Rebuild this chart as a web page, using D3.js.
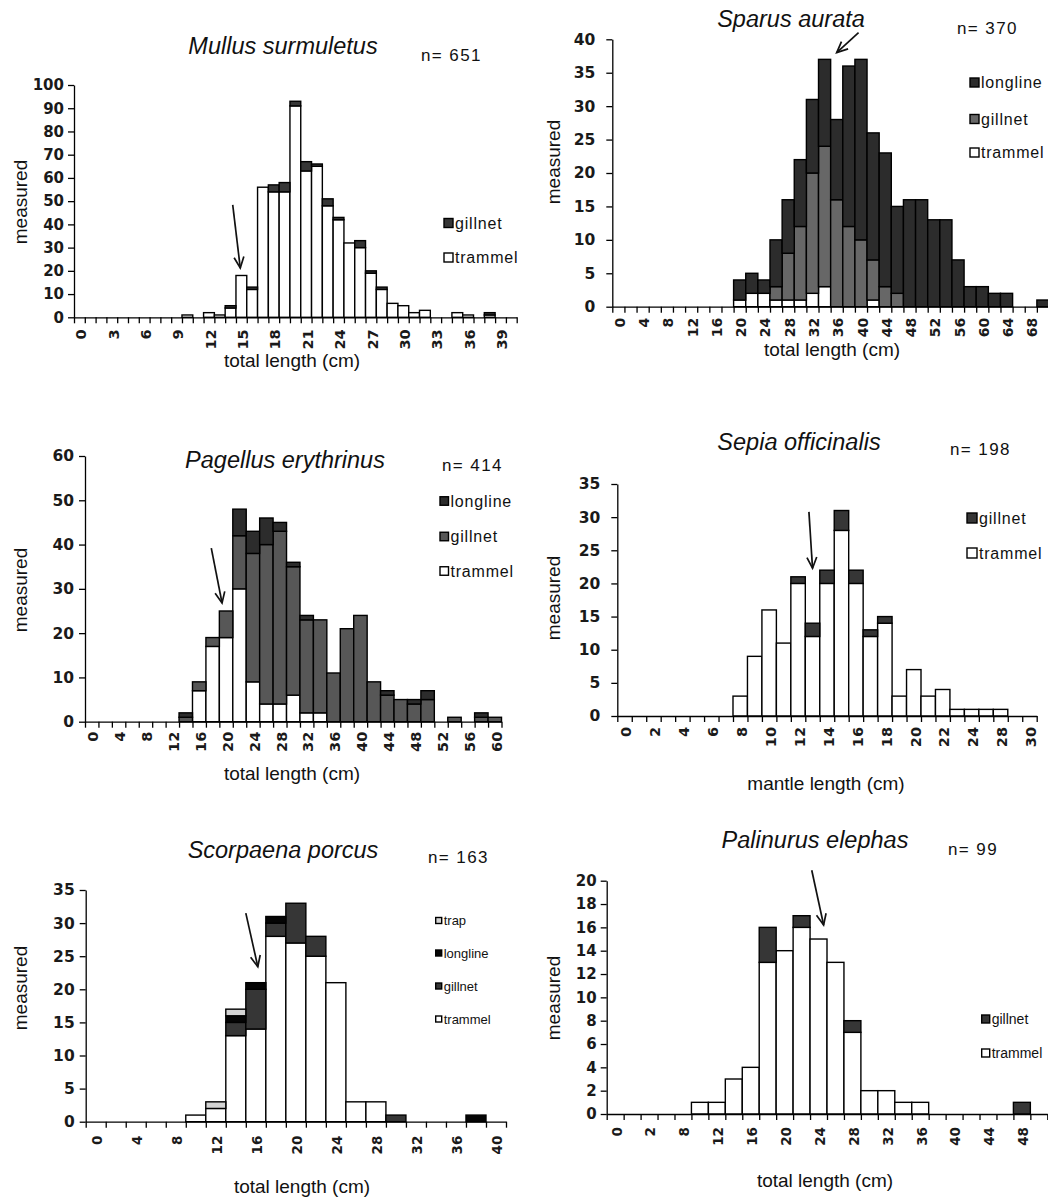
<!DOCTYPE html>
<html><head><meta charset="utf-8">
<script src="https://cdn.jsdelivr.net/npm/d3@7"></script>
<style>html,body{margin:0;padding:0;background:#fff}</style>
</head><body>
<svg id="chart" width="1048" height="1199"></svg>
<script>
// ---------------- DATA ----------------
// Panel 1: Mullus surmuletus (1 cm classes)
const mullusCats = d3.range(0, 41);
const mullusTrammel = [0,0,0,0,0,0,0,0,0,0, 1,0,2,1,4,18,12,56,54,54, 91,63,65,48,42,32,30,19,12,6, 5,2,3,0,0,2,1,0,1,0, 0];
const mullusGillnet = [0,0,0,0,0,0,0,0,0,0, 0,0,0,0,1,0,1,0,3,4, 2,4,1,3,1,0,3,1,1,0, 0,0,0,0,0,0,0,0,1,0, 0];

// Panel 2: Sparus aurata (2 cm classes)
const sparusCats = d3.range(0, 71, 2);
const sparusTrammel  = [0,0,0,0,0,0,0,0,0,0, 1,2,2,1,1,1,2,3,0,0, 0,1,0,0,0,0,0,0,0,0, 0,0,0,0,0,0];
const sparusGillnet  = [0,0,0,0,0,0,0,0,0,0, 0,0,0,2,7,11,18,21,16,12, 10,6,3,2,0,0,0,0,0,0, 0,0,0,0,0,0];
const sparusLongline = [0,0,0,0,0,0,0,0,0,0, 3,3,2,7,8,10,11,13,12,24, 27,19,20,13,16,16,13,13,7,3, 3,2,2,0,0,1];

// Panel 3: Pagellus erythrinus (2 cm classes)
const pagellusCats = d3.range(0, 61, 2);
const pagellusTrammel  = [0,0,0,0,0,0,0,0,7,17, 19,30,9,4,4,6,2,2,0,0, 0,0,0,0,0,0,0,0,0,0, 0];
const pagellusGillnet  = [0,0,0,0,0,0,0,1,2,2, 6,12,29,36,39,29,21,21,11,21, 24,9,6,5,4,5,0,1,0,1, 1];
const pagellusLongline = [0,0,0,0,0,0,0,1,0,0, 0,6,5,6,2,1,1,0,0,0, 0,0,1,0,1,2,0,0,0,1, 0];

// Panel 4: Sepia officinalis (mantle length, 1 cm classes)
const sepiaCats = [0,1,2,3,4,5,6,7,8,9,10,11,12,13,14,15,16,17,18,19,20,21,22,23,24,26,28,29,30];
const sepiaTrammel = [0,0,0,0,0,0,0,0,3,9, 16,11,20,12,20,28,20,12,14,3, 7,3,4,1,1,1,1,0,0];
const sepiaGillnet = [0,0,0,0,0,0,0,0,0,0, 0,0,1,2,2,3,2,1,1,0, 0,0,0,0,0,0,0,0,0];

// Panel 5: Scorpaena porcus (2 cm classes)
const scorpaenaCats = d3.range(0, 41, 2);
const scorpaenaTrammel  = [0,0,0,0,0,1,2,13,14,28, 27,25,21,3,3,0,0,0,0,0, 0];
const scorpaenaGillnet  = [0,0,0,0,0,0,0,2,6,2, 6,3,0,0,0,1,0,0,0,0, 0];
const scorpaenaLongline = [0,0,0,0,0,0,0,1,1,1, 0,0,0,0,0,0,0,0,0,1, 0];
const scorpaenaTrap     = [0,0,0,0,0,0,1,1,0,0, 0,0,0,0,0,0,0,0,0,0, 0];

// Panel 6: Palinurus elephas
const palinurusCats = [0,1,2,6,8,10,12,14,16,18,20,22,24,26,28,30,32,34,36,38,40,42,44,46,48,50];
const palinurusTrammel = [0,0,0,0,0,1,1,3,4,13, 14,16,15,13,7,2,2,1,1,0, 0,0,0,0,0,0];
const palinurusGillnet = [0,0,0,0,0,0,0,0,0,3, 0,1,0,0,1,0,0,0,0,0, 0,0,0,0,1,0];

const titles = ["Mullus surmuletus","Sparus aurata","Pagellus erythrinus","Sepia officinalis","Scorpaena porcus","Palinurus elephas"];
const nLabels = ["n= 651","n= 370","n= 414","n= 198","n= 163","n= 99"];
const xTitles = ["total length (cm)","total length (cm)","total length (cm)","mantle length (cm)","total length (cm)","total length (cm)"];
const yTitle = "measured";
// arrows in data coordinates: [category index position, value]
const arrows = [
  {from:[14.7,48.4], to:[15.4,21.2]},
  {from:[20.3,41.0], to:[18.5,38.0]},
  {from:[9.4,39.2],  to:[10.2,26.8]},
  {from:[13.25,30.8],to:[13.5,22.3]},
  {from:[8.0,31.5],  to:[8.6,23.4]},
  {from:[12.1,20.9], to:[12.8,16.2]}
];

// ---------------- STYLE / LAYOUT ----------------
const C = {trammel:"#ffffff", gillnetDark:"#363636", gillnetMid:"#676767", gillnetP3:"#575757", longline:"#2c2c2c", longlineBlack:"#050505", trap:"#d4d4d4"};

const panels = [
  {cats:mullusCats, series:[{key:"trammel",v:mullusTrammel,c:C.trammel},{key:"gillnet",v:mullusGillnet,c:C.gillnetDark}],
   box:[74,516.7,85,317.3], ymax:100, ystep:10, ypad:4, yfs:15, labelEvery:3, xfs:14.5, xoff:12,
   title:[283,54], n:[421,61], xt:[292,367], yt:[20,202],
   legend:{x:444, ys:[257.5,223], sq:9, fs:16}},
  {cats:sparusCats, series:[{key:"trammel",v:sparusTrammel,c:C.trammel},{key:"gillnet",v:sparusGillnet,c:C.gillnetMid},{key:"longline",v:sparusLongline,c:C.longline}],
   box:[612.3,1049,39.3,306.7], ymax:40, ystep:5, ypad:11, yfs:15.5, labelEvery:2, xfs:14, xoff:11,
   title:[791,27], n:[957,34], xt:[832,356], yt:[553,162],
   legend:{x:970, ys:[152.5,119,82.5], sq:9, fs:16}},
  {cats:pagellusCats, series:[{key:"trammel",v:pagellusTrammel,c:C.trammel},{key:"gillnet",v:pagellusGillnet,c:C.gillnetP3},{key:"longline",v:pagellusLongline,c:C.longline}],
   box:[85,501.5,456,721.7], ymax:60, ystep:10, ypad:5, yfs:15.5, labelEvery:2, xfs:14.5, xoff:10,
   title:[285,468], n:[442,471], xt:[292,780], yt:[20,590],
   legend:{x:440, ys:[571,536.5,501], sq:8.5, fs:16}},
  {cats:sepiaCats, series:[{key:"trammel",v:sepiaTrammel,c:C.trammel},{key:"gillnet",v:sepiaGillnet,c:C.gillnetDark}],
   box:[617.3,1036.7,484,716], ymax:35, ystep:5, ypad:11, yfs:15.5, labelEvery:2, xfs:14.5, xoff:11,
   title:[799,450], n:[950,455], xt:[826,790], yt:[553,598],
   legend:{x:967, ys:[553,518], sq:10, fs:16}},
  {cats:scorpaenaCats, series:[{key:"trammel",v:scorpaenaTrammel,c:C.trammel},{key:"gillnet",v:scorpaenaGillnet,c:C.gillnetDark},{key:"longline",v:scorpaenaLongline,c:C.longlineBlack},{key:"trap",v:scorpaenaTrap,c:C.trap}],
   box:[85.7,506,890,1121.7], ymax:35, ystep:5, ypad:5, yfs:15.5, labelEvery:2, xfs:13.5, xoff:14,
   title:[283,858], n:[428,863], xt:[302,1193], yt:[20,988],
   legend:{x:435.7, ys:[1019,986,953,920.5], sq:6, fs:13}},
  {cats:palinurusCats, series:[{key:"trammel",v:palinurusTrammel,c:C.trammel},{key:"gillnet",v:palinurusGillnet,c:C.gillnetDark}],
   box:[606.7,1047.3,880.7,1114], ymax:20, ystep:2, ypad:4, yfs:15, labelEvery:2, xfs:13.5, xoff:13,
   title:[815,848], n:[948,855], xt:[825,1187], yt:[553,998],
   legend:{x:981.7, ys:[1053,1019], sq:8, fs:14}}
];

const TICKFONT = "'DejaVu Sans', sans-serif";
const TXTFONT = "'Liberation Sans', Arial, sans-serif";
const svg = d3.select("#chart");

panels.forEach((p, pi) => {
  const g = svg.append("g");
  const [L, R, T, B] = p.box;
  const n = p.cats.length;
  const x = d3.scaleBand().domain(p.cats.map(String)).range([L, R]).paddingInner(0).paddingOuter(0);
  const xi = d3.scaleLinear().domain([0, n]).range([L, R]);
  const y = d3.scaleLinear().domain([0, p.ymax]).range([B, T]);

  const rows = p.cats.map((c, i) => { const o = {cat:String(c)}; p.series.forEach(s => o[s.key] = s.v[i]); return o; });
  const stacked = d3.stack().keys(p.series.map(s => s.key))(rows);
  stacked.forEach((layer, li) => {
    g.append("g").selectAll("rect").data(layer.filter(d => d[1] > d[0])).join("rect")
      .attr("x", d => x(d.data.cat)).attr("width", x.bandwidth())
      .attr("y", d => y(d[1])).attr("height", d => y(d[0]) - y(d[1]))
      .attr("fill", p.series[li].c).attr("stroke", "#000").attr("stroke-width", 1.4);
  });

  // y axis
  const ya = d3.axisLeft(y).tickValues(d3.range(0, p.ymax + 0.001, p.ystep)).tickSize(6).tickSizeOuter(0).tickPadding(p.ypad);
  const gy = g.append("g").attr("transform", `translate(${L},0)`).call(ya);
  gy.selectAll("path,line").attr("stroke", "#000").attr("stroke-width", 1.3);
  gy.selectAll("text").attr("font-family", TICKFONT).attr("font-weight", 700).attr("font-size", p.yfs).attr("fill", "#1a1a1a");

  // x axis boundary ticks
  const xb = d3.axisBottom(xi).tickValues(d3.range(n + 1)).tickSize(6).tickSizeOuter(0).tickFormat("");
  const gxb = g.append("g").attr("transform", `translate(0,${B})`).call(xb);
  gxb.selectAll("path,line").attr("stroke", "#000").attr("stroke-width", 1.3);

  // x labels
  const xa = d3.axisBottom(x).tickSize(0).tickFormat((d, i) => (i % p.labelEvery === 0) ? d : "");
  const gx = g.append("g").attr("transform", `translate(0,${B})`).call(xa);
  gx.select(".domain").remove();
  gx.selectAll("text").attr("x", 0).attr("y", 0).attr("dx", 0).attr("dy", "0.36em")
    .attr("transform", `translate(1.5,${p.xoff}) rotate(-90)`).attr("text-anchor", "end")
    .attr("font-family", TICKFONT).attr("font-weight", 700).attr("font-size", p.xfs).attr("fill", "#1a1a1a");

  // titles
  g.append("text").attr("x", p.title[0]).attr("y", p.title[1]).attr("text-anchor", "middle")
    .attr("font-family", TXTFONT).attr("font-style", "italic").attr("font-size", 23.5).attr("fill", "#111").text(titles[pi]);
  g.append("text").attr("x", p.n[0]).attr("y", p.n[1])
    .attr("font-family", TXTFONT).attr("font-size", 17).attr("letter-spacing", 1.4).attr("fill", "#111").text(nLabels[pi]);
  g.append("text").attr("x", p.xt[0]).attr("y", p.xt[1]).attr("text-anchor", "middle")
    .attr("font-family", TXTFONT).attr("font-size", 19).attr("fill", "#111").text(xTitles[pi]);
  g.append("text").attr("transform", `translate(${p.yt[0]},${p.yt[1]}) rotate(-90)`).attr("text-anchor", "middle")
    .attr("dy", "0.35em").attr("font-family", TXTFONT).attr("font-size", 19).attr("fill", "#111").text(yTitle);

  // legend
  const lg = p.legend;
  p.series.forEach((s, i) => {
    const cy = lg.ys[i];
    g.append("rect").attr("x", lg.x).attr("y", cy - lg.sq / 2).attr("width", lg.sq).attr("height", lg.sq)
      .attr("fill", s.c).attr("stroke", "#000").attr("stroke-width", 1.4);
    g.append("text").attr("x", lg.x + lg.sq + 2).attr("y", cy).attr("dy", "0.36em")
      .attr("font-family", TXTFONT).attr("font-size", lg.fs).attr("letter-spacing", lg.fs > 14 ? 0.8 : 0)
      .attr("fill", "#111").text(s.key);
  });

  // arrow
  const a = arrows[pi];
  const x1 = xi(a.from[0]), y1 = y(a.from[1]), x2 = xi(a.to[0]), y2 = y(a.to[1]);
  g.append("line").attr("x1", x1).attr("y1", y1).attr("x2", x2).attr("y2", y2)
    .attr("stroke", "#111").attr("stroke-width", 1.7);
  const ang = Math.atan2(y2 - y1, x2 - x1), hl = 12, ha = 0.42;
  const pts = [[x2 - hl * Math.cos(ang - ha), y2 - hl * Math.sin(ang - ha)], [x2, y2], [x2 - hl * Math.cos(ang + ha), y2 - hl * Math.sin(ang + ha)]];
  g.append("polyline").attr("points", pts.map(q => q.join(",")).join(" "))
    .attr("fill", "none").attr("stroke", "#111").attr("stroke-width", 1.7);
});
</script>
</body></html>
